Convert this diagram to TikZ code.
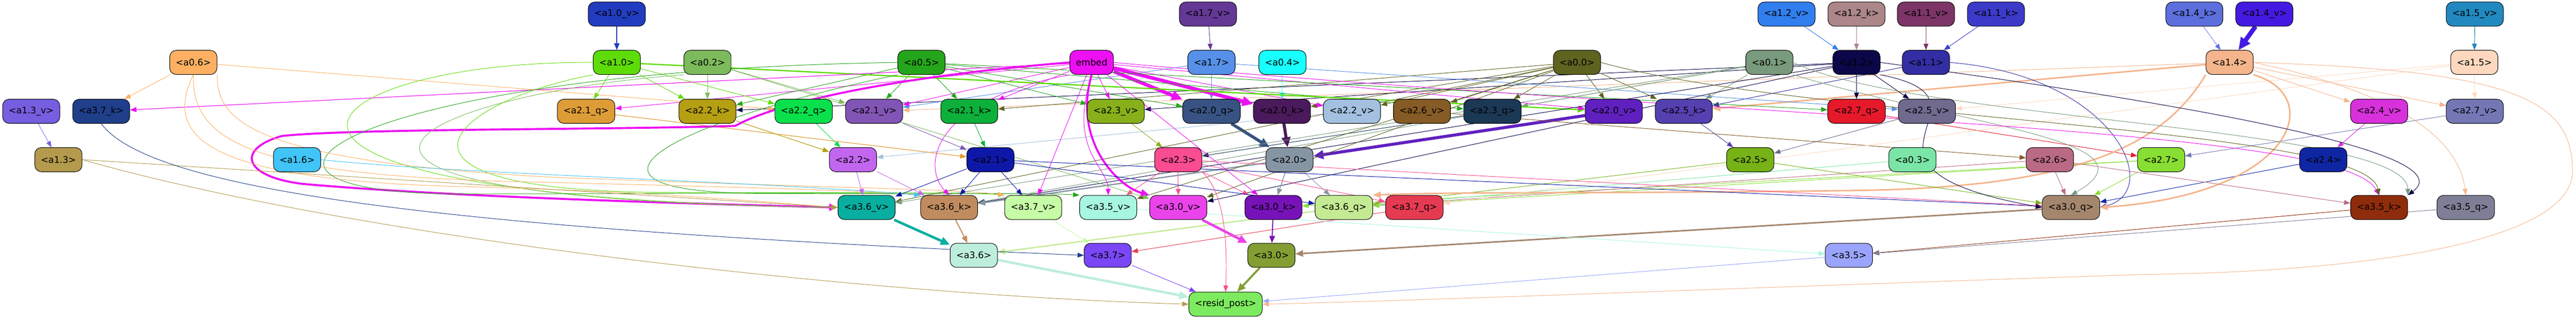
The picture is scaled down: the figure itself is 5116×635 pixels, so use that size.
\documentclass[tikz,border=0pt]{standalone}
\usepackage{fontspec}
\setmainfont{DejaVu Sans}
\usetikzlibrary{arrows.meta}
\pgfdeclarelayer{bg}
\pgfsetlayers{bg,main}
\definecolor{c10v}{HTML}{223CC0}\definecolor{c10}{HTML}{5EDC0A}\definecolor{c02}{HTML}{7CBA5C}
\definecolor{c06}{HTML}{FDB062}\definecolor{c13v}{HTML}{765EE0}\definecolor{c37k}{HTML}{1F3F8B}
\definecolor{c13}{HTML}{B39A4D}\definecolor{c16}{HTML}{41C4F7}\definecolor{c21q}{HTML}{DE9C37}
\definecolor{c22k}{HTML}{B59F12}\definecolor{c22q}{HTML}{0AE04C}\definecolor{c21v}{HTML}{8155B5}
\definecolor{c22}{HTML}{C266F0}\definecolor{c36v}{HTML}{08AFA0}\definecolor{c05}{HTML}{25A51B}
\definecolor{cemb}{HTML}{EC10F3}\definecolor{c17v}{HTML}{643895}\definecolor{c17}{HTML}{5690E8}
\definecolor{c04}{HTML}{17FFFF}\definecolor{c21k}{HTML}{0DB03B}\definecolor{c23v}{HTML}{87B01A}
\definecolor{c20q}{HTML}{385383}\definecolor{c20k}{HTML}{4A1A5C}\definecolor{c21}{HTML}{0E18A8}
\definecolor{c23}{HTML}{F94C91}\definecolor{c20}{HTML}{8595A3}\definecolor{c36k}{HTML}{C08C5F}
\definecolor{c37v}{HTML}{C6FCA5}\definecolor{c35v}{HTML}{A7F7E0}\definecolor{c30v}{HTML}{EA43EA}
\definecolor{c30k}{HTML}{7612B7}\definecolor{c36}{HTML}{BDEEDC}\definecolor{c37}{HTML}{7A46F6}
\definecolor{c30}{HTML}{839E33}\definecolor{cres}{HTML}{7DEB5F}\definecolor{c00}{HTML}{5E6320}
\definecolor{c22v}{HTML}{A3C0E0}\definecolor{c26v}{HTML}{865B25}\definecolor{c23q}{HTML}{1B3855}
\definecolor{c20v}{HTML}{6020C0}\definecolor{c25k}{HTML}{5540B0}\definecolor{c36q}{HTML}{C4EB94}
\definecolor{c37q}{HTML}{E53B52}\definecolor{c12v}{HTML}{317EEE}\definecolor{c12k}{HTML}{AC8689}
\definecolor{c11v}{HTML}{7C3566}\definecolor{c11k}{HTML}{3C3AC9}\definecolor{c01}{HTML}{799A7C}
\definecolor{c12}{HTML}{0B0749}\definecolor{c11}{HTML}{332EA3}\definecolor{c27q}{HTML}{E6192B}
\definecolor{c25v}{HTML}{706A8E}\definecolor{c25}{HTML}{77B217}\definecolor{c03}{HTML}{7AE5A6}
\definecolor{c26}{HTML}{BA6A85}\definecolor{c27}{HTML}{88DE32}\definecolor{c30q}{HTML}{A4866D}
\definecolor{c35}{HTML}{9AA4FC}\definecolor{c14k}{HTML}{5D6EDD}\definecolor{c14v}{HTML}{441AE2}
\definecolor{c15v}{HTML}{2189BF}\definecolor{c14}{HTML}{F4B48C}\definecolor{c15}{HTML}{FDD8BF}
\definecolor{c24v}{HTML}{D831DC}\definecolor{c27v}{HTML}{7577B5}\definecolor{c24}{HTML}{0F26A3}
\definecolor{c35k}{HTML}{8E2C0C}\definecolor{c35q}{HTML}{7E7F97}
\newcommand\Ed[4]{\draw[ed,draw=#1,line width=#2] (#3) -- (#4);}
\begin{document}
\begin{tikzpicture}[x=1pt,y=-1pt,
 nd/.style={draw=black,line width=1pt,rounded corners=13pt,minimum height=48pt,inner xsep=12pt,inner ysep=0pt,font=\fontsize{18pt}{21pt}\selectfont,text=black},
 ed/.style={-{Triangle[length=11pt 1.5,width=8pt 1.5]},line width=1pt}]
\useasboundingbox (0,0) rectangle (5116,635);
% row 1
\node[nd,fill=c10v] (n10v) at (1225,28) {<a1.0\_v>};
\node[nd,fill=c17v] (n17v) at (2399,28) {<a1.7\_v>};
\node[nd,fill=c12v] (n12v) at (3548,28) {<a1.2\_v>};
\node[nd,fill=c12k] (n12k) at (3687,28) {<a1.2\_k>};
\node[nd,fill=c11v] (n11v) at (3825,28) {<a1.1\_v>};
\node[nd,fill=c11k] (n11k) at (3964,28) {<a1.1\_k>};
\node[nd,fill=c14k] (n14k) at (4358,28) {<a1.4\_k>};
\node[nd,fill=c14v] (n14v) at (4497,28) {<a1.4\_v>};
\node[nd,fill=c15v] (n15v) at (4915,28) {<a1.5\_v>};
% row 2
\node[nd,fill=c06] (n06) at (384,124) {<a0.6>};
\node[nd,fill=c10] (n10) at (1225,124) {<a1.0>};
\node[nd,fill=c02] (n02) at (1405,124) {<a0.2>};
\node[nd,fill=c05] (n05) at (1830,124) {<a0.5>};
\node[nd,fill=cemb] (emb) at (2168,124) {embed};
\node[nd,fill=c17] (n17) at (2406,124) {<a1.7>};
\node[nd,fill=c04] (n04) at (2547,124) {<a0.4>};
\node[nd,fill=c00] (n00) at (3132,124) {<a0.0>};
\node[nd,fill=c01] (n01) at (3514,124) {<a0.1>};
\node[nd,fill=c12] (n12) at (3687,124) {<a1.2>};
\node[nd,fill=c11] (n11) at (3825,124) {<a1.1>};
\node[nd,fill=c14] (n14) at (4428,124) {<a1.4>};
\node[nd,fill=c15] (n15) at (4914,124) {<a1.5>};
% row 3
\node[nd,fill=c13v] (n13v) at (62,221) {<a1.3\_v>};
\node[nd,fill=c37k] (n37k) at (201,221) {<a3.7\_k>};
\node[nd,fill=c21q] (n21q) at (1164,221) {<a2.1\_q>};
\node[nd,fill=c22k] (n22k) at (1405,221) {<a2.2\_k>};
\node[nd,fill=c22q] (n22q) at (1596,221) {<a2.2\_q>};
\node[nd,fill=c21v] (n21v) at (1736,221) {<a2.1\_v>};
\node[nd,fill=c21k] (n21k) at (1925,221) {<a2.1\_k>};
\node[nd,fill=c23v] (n23v) at (2216,221) {<a2.3\_v>};
\node[nd,fill=c20q] (n20q) at (2406,221) {<a2.0\_q>};
\node[nd,fill=c20k] (n20k) at (2546,221) {<a2.0\_k>};
\node[nd,fill=c22v] (n22v) at (2685,221) {<a2.2\_v>};
\node[nd,fill=c26v] (n26v) at (2824,221) {<a2.6\_v>};
\node[nd,fill=c23q] (n23q) at (2964,221) {<a2.3\_q>};
\node[nd,fill=c20v] (n20v) at (3205,221) {<a2.0\_v>};
\node[nd,fill=c25k] (n25k) at (3344,221) {<a2.5\_k>};
\node[nd,fill=c27q] (n27q) at (3687,221) {<a2.7\_q>};
\node[nd,fill=c25v] (n25v) at (3827,221) {<a2.5\_v>};
\node[nd,fill=c24v] (n24v) at (4725,221) {<a2.4\_v>};
\node[nd,fill=c27v] (n27v) at (4915,221) {<a2.7\_v>};
% row 4
\node[nd,fill=c13] (n13) at (116,317) {<a1.3>};
\node[nd,fill=c16] (n16) at (590,317) {<a1.6>};
\node[nd,fill=c22] (n22) at (1694,317) {<a2.2>};
\node[nd,fill=c21] (n21) at (1967,317) {<a2.1>};
\node[nd,fill=c23] (n23) at (2340,317) {<a2.3>};
\node[nd,fill=c20] (n20) at (2561,317) {<a2.0>};
\node[nd,fill=c25] (n25) at (3476,317) {<a2.5>};
\node[nd,fill=c03] (n03) at (3798,317) {<a0.3>};
\node[nd,fill=c26] (n26) at (4071,317) {<a2.6>};
\node[nd,fill=c27] (n27) at (4292,317) {<a2.7>};
\node[nd,fill=c24] (n24) at (4614,317) {<a2.4>};
% row 5
\node[nd,fill=c36v] (n36v) at (1721,412) {<a3.6\_v>};
\node[nd,fill=c36k] (n36k) at (1885,412) {<a3.6\_k>};
\node[nd,fill=c37v] (n37v) at (2052,412) {<a3.7\_v>};
\node[nd,fill=c35v] (n35v) at (2201,412) {<a3.5\_v>};
\node[nd,fill=c30v] (n30v) at (2340,412) {<a3.0\_v>};
\node[nd,fill=c30k] (n30k) at (2529,412) {<a3.0\_k>};
\node[nd,fill=c36q] (n36q) at (2669,412) {<a3.6\_q>};
\node[nd,fill=c37q] (n37q) at (2809,412) {<a3.7\_q>};
\node[nd,fill=c30q] (n30q) at (4113,412) {<a3.0\_q>};
\node[nd,fill=c35k] (n35k) at (4725,412) {<a3.5\_k>};
\node[nd,fill=c35q] (n35q) at (4897,412) {<a3.5\_q>};
% row 6
\node[nd,fill=c36] (n36) at (1934,507) {<a3.6>};
\node[nd,fill=c37] (n37) at (2200,507) {<a3.7>};
\node[nd,fill=c30] (n30) at (2525,507) {<a3.0>};
\node[nd,fill=c35] (n35) at (3672,507) {<a3.5>};
% row 7
\node[nd,fill=cres] (res) at (2434,604) {<resid\_post>};

\begin{pgfonlayer}{bg}
% layer 1 inputs
\Ed{c10v}{1.8pt}{n10v}{n10}
\Ed{c17v}{1pt}{n17v}{n17}
\Ed{c12v}{1pt}{n12v}{n12}
\Ed{c12k}{1pt}{n12k}{n12}
\Ed{c11v}{1pt}{n11v}{n11}
\Ed{c11k}{1pt}{n11k}{n11}
\Ed{c14k}{0.8pt}{n14k}{n14}
\Ed{c14v}{9pt}{n14v}{n14}
\Ed{c15v}{1.2pt}{n15v}{n15}
\Ed{c13v}{0.8pt}{n13v}{n13}
% layer 2 q/k/v inputs
\Ed{c10}{1pt}{n10}{n21q}
\Ed{cemb}{1pt}{emb}{n21q}
\Ed{c10}{1pt}{n10}{n22k}
\Ed{c02}{1pt}{n02}{n22k}
\Ed{c05}{1pt}{n05}{n22k}
\Ed{c12}{1pt}{n12}{n22k}
\Ed{c10}{1pt}{n10}{n22q}
\Ed{c06}{1pt}{n06}{n22q}
\Ed{c05}{1pt}{n05}{n21v}
\Ed{c17}{1pt}{n17}{n21v}
\Ed{c02}{1pt}{n02}{n21v}
\Ed{cemb}{1pt}{emb}{n21v}
\Ed{c14}{1pt}{n14}{n21v}
\Ed{c05}{1pt}{n05}{n21k}
\Ed{cemb}{1pt}{emb}{n21k}
\Ed{c00}{1pt}{n00}{n21k}
\Ed{c05}{1pt}{n05}{n23v}
\Ed{c12}{1pt}{n12}{n23v}
\Ed{cemb}{1pt}{emb}{n23v}
\Ed{cemb}{7pt}{emb}{n20q}
\Ed{c17}{1pt}{n17}{n20q}
\Ed{c05}{1pt}{n05}{n20q}
\Ed{cemb}{7pt}{emb}{n20k}
\Ed{c04}{1pt}{n04}{n20k}
\Ed{c00}{1pt}{n00}{n20k}
\Ed{c00}{1pt}{n00}{n22v}
\Ed{cemb}{1pt}{emb}{n22v}
\Ed{c00}{1pt}{n00}{n26v}
\Ed{c05}{1pt}{n05}{n23q}
\Ed{c00}{1pt}{n00}{n23q}
\Ed{c01}{1pt}{n01}{n23q}
\Ed{c10}{2.5pt}{n10}{n20v}
\Ed{cemb}{1pt}{emb}{n20v}
\Ed{c00}{1pt}{n00}{n20v}
\Ed{c00}{1pt}{n00}{n25k}
\Ed{c01}{1pt}{n01}{n25k}
\Ed{c14}{3pt}{n14}{n25k}
\Ed{c11}{1pt}{n11}{n25k}
\Ed{c05}{1pt}{n05}{n27q}
\Ed{c12}{1pt}{n12}{n27q}
\Ed{c12}{1pt}{n12}{n25v}
\Ed{c17}{1pt}{n17}{n25v}
\Ed{c15}{1pt}{n15}{n25v}
\Ed{c14}{1pt}{n14}{n24v}
\Ed{c14}{1pt}{n14}{n27v}
\Ed{c15}{1pt}{n15}{n27v}
\Ed{c06}{1pt}{n06}{n37k}
\Ed{cemb}{1.2pt}{emb}{n37k}
% layer 2 heads
\Ed{c22k}{1.2pt}{n22k}{n22}
\Ed{c22q}{1pt}{n22q}{n22}
\Ed{c22v}{1pt}{n22v}{n22}
\Ed{c21q}{1.2pt}{n21q}{n21}
\Ed{c21v}{1pt}{n21v}{n21}
\Ed{c21k}{1pt}{n21k}{n21}
\Ed{c23v}{1pt}{n23v}{n23}
\Ed{c23q}{1pt}{n23q}{n23}
\Ed{c20q}{6pt}{n20q}{n20}
\Ed{c20k}{6pt}{n20k}{n20}
\Ed{c20v}{6pt}{n20v}{n20}
\Ed{c25k}{1pt}{n25k}{n25}
\Ed{c25v}{1pt}{n25v}{n25}
\Ed{c26v}{1pt}{n26v}{n26}
\Ed{c27q}{1pt}{n27q}{n27}
\Ed{c27v}{1pt}{n27v}{n27}
\Ed{c24v}{1pt}{n24v}{n24}
% layer 3 q/k/v inputs
\draw[ed,draw=cemb,line width=4pt] (emb.west) .. controls (1800,150) and (1550,200) .. (1460,250) .. controls (1200,258) and (700,255) .. (560,270) .. controls (470,295) and (480,350) .. (600,365) .. controls (900,392) and (1400,405) .. (n36v.west);
\draw[ed,draw=c10] (n10.west) .. controls (600,120) and (300,390) .. (n36v.west);
\draw[ed,draw=c02] (n02.south west) .. controls (800,190) and (420,395) .. (n36v.west);
\draw[ed,draw=c05] (n05.west) .. controls (700,140) and (350,380) .. (900,385) .. controls (1400,385) and (1750,380) .. (n36k.north west);
\draw[ed,draw=c10] (n10.south west) .. controls (900,200) and (700,375) .. (1300,382) .. controls (1700,384) and (1900,380) .. (n37v.north west);
\draw[ed,draw=c05] (n05.south west) .. controls (1300,250) and (1100,380) .. (1500,384) .. controls (1900,386) and (2050,382) .. (n35v.north west);
\draw[ed,draw=c06] (n06.south) .. controls (330,260) and (380,355) .. (900,370) .. controls (1300,380) and (1500,400) .. (n36v.west);
\draw[ed,draw=c06] (n06.south) .. controls (380,280) and (500,345) .. (1000,360) .. controls (1500,372) and (1750,380) .. (n36k.north west);
\draw[ed,draw=c06] (n06.south east) .. controls (430,240) and (500,320) .. (1100,352) .. controls (1600,372) and (1900,375) .. (n37v.north west);
\draw[ed,draw=c13] (n13.east) -- (n36v.west);
\draw[ed,draw=c16] (n16.east) .. controls (900,345) and (1500,360) .. (n36k.north west);
\Ed{c22}{1pt}{n22}{n36v}
\Ed{c00}{1pt}{n00}{n36v}
\Ed{c01}{1pt}{n01}{n36v}
\Ed{c21}{1pt}{n21}{n36v}
\draw[ed,draw=cemb] (emb.south west) .. controls (1850,200) and (1830,330) .. (n36k.north);
\Ed{c21}{1pt}{n21}{n36k}
\Ed{c01}{1pt}{n01}{n36k}
\Ed{c12}{1pt}{n12}{n36k}
\Ed{c22}{1pt}{n22}{n36k}
\Ed{c20}{2.5pt}{n20}{n36k}
\Ed{c21}{1pt}{n21}{n37v}
\Ed{cemb}{1pt}{emb}{n37v}
\Ed{c00}{1pt}{n00}{n35v}
\draw[ed,draw=cemb] (emb.south) .. controls (2120,300) and (2200,330) .. (n35v.north);
\Ed{c23}{1pt}{n23}{n35v}
\draw[ed,draw=cemb,line width=4pt] (emb.south) .. controls (2130,280) and (2220,370) .. (n30v.north west);
\Ed{c12}{1pt}{n12}{n30v}
\Ed{c02}{1pt}{n02}{n30v}
\Ed{c23}{1pt}{n23}{n30v}
\Ed{c00}{1pt}{n00}{n30v}
\Ed{c23}{1pt}{n23}{n30k}
\Ed{cemb}{1pt}{emb}{n30k}
\Ed{c20}{1.5pt}{n20}{n30k}
\Ed{c27}{1pt}{n27}{n30k}
\Ed{c20}{1pt}{n20}{n36q}
\Ed{c03}{1pt}{n03}{n36q}
\Ed{c21}{1pt}{n21}{n36q}
\Ed{c25}{1pt}{n25}{n36q}
\Ed{c26}{1pt}{n26}{n36q}
\Ed{c27}{1pt}{n27}{n36q}
\draw[ed,draw=c14,line width=3pt] (n14.south west) .. controls (4300,280) and (4150,370) .. (3700,378) .. controls (3200,385) and (2900,380) .. (n36q.north east);
\Ed{c15}{1pt}{n15}{n37q}
\Ed{c23}{1pt}{n23}{n37q}
\Ed{c26}{1pt}{n26}{n30q}
\draw[ed,draw=c01] (n01.south east) .. controls (3900,250) and (4300,280) .. (n30q.north);
\Ed{c27}{1pt}{n27}{n30q}
\Ed{c25}{1pt}{n25}{n30q}
\Ed{c21}{1pt}{n21}{n30q}
\Ed{c23}{1pt}{n23}{n30q}
\Ed{c24}{1pt}{n24}{n30q}
\draw[ed,draw=c12] (n12.south east) .. controls (4000,200) and (3600,330) .. (n30q.west);
\draw[ed,draw=c11] (n11.east) .. controls (4200,150) and (4300,380) .. (n30q.east);
\draw[ed,draw=c14,line width=3pt] (n14.south east) .. controls (4620,190) and (4560,385) .. (n30q.east);
\draw[ed,draw=cemb] (emb.east) .. controls (3500,240) and (4650,250) .. (n35k.north);
\draw[ed,draw=c00] (n00.east) .. controls (3600,240) and (4700,250) .. (n35k.north);
\draw[ed,draw=c01] (n01.east) .. controls (3800,240) and (4780,250) .. (n35k.north east);
\draw[ed,draw=c12] (n12.east) .. controls (4300,200) and (4900,300) .. (n35k.north east);
\Ed{c26}{1pt}{n26}{n35k}
\draw[ed,draw=c14] (n14.east) .. controls (4700,170) and (4880,250) .. (n35q.north);
% layer 3 heads
\Ed{c36v}{5pt}{n36v}{n36}
\Ed{c36k}{2pt}{n36k}{n36}
\Ed{c36q}{2.5pt}{n36q}{n36}
\Ed{c37v}{1pt}{n37v}{n37}
\draw[ed,draw=c37k] (n37k.south) .. controls (300,380) and (900,455) .. (n37.west);
\Ed{c37q}{1pt}{n37q}{n37}
\Ed{c30v}{5pt}{n30v}{n30}
\Ed{c30k}{2pt}{n30k}{n30}
\Ed{c30q}{3pt}{n30q}{n30}
\Ed{c35v}{1pt}{n35v}{n35}
\Ed{c35k}{1pt}{n35k}{n35}
\Ed{c35q}{1pt}{n35q}{n35}
% resid_post
\Ed{c36}{5pt}{n36}{res}
\Ed{c37}{1pt}{n37}{res}
\Ed{c30}{4pt}{n30}{res}
\draw[ed,draw=c23] (n23.south east) .. controls (2430,380) and (2438,470) .. (res.north);
\draw[ed,draw=c13] (n13.east) .. controls (700,470) and (1700,585) .. (res.west);
\Ed{c35}{1pt}{n35}{res}
\draw[ed,draw=c14] (n14.east) .. controls (5000,140) and (5109,200) .. (5109,340) .. controls (5109,480) and (4700,540) .. (4256,545) .. controls (3500,570) and (2800,598) .. (res.east);
\end{pgfonlayer}
\end{tikzpicture}
\end{document}
